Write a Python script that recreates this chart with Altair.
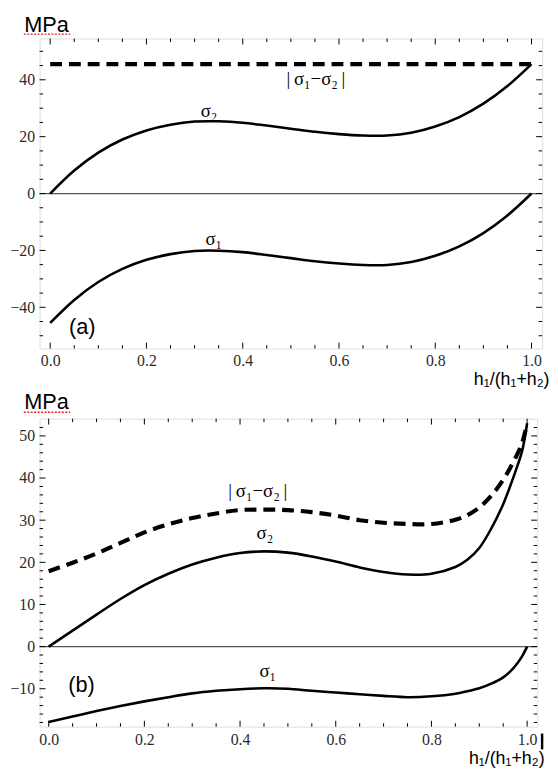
import altair as alt
import pandas as pd

# ---------------- panel (a) data ----------------
xa = [0.0, 0.05, 0.1, 0.15, 0.2, 0.25, 0.3, 0.35, 0.4, 0.45, 0.5,
      0.55, 0.6, 0.65, 0.7, 0.75, 0.8, 0.85, 0.9, 0.95, 1.0]
sig2_a = [0.0, 8.1, 14.4, 19.0, 22.2, 24.2, 25.3, 25.4, 24.9, 23.9, 22.8,
          21.7, 20.9, 20.4, 20.4, 21.4, 23.6, 26.9, 31.6, 37.8, 45.5]
sig1_a = [-45.5, -37.4, -31.1, -26.5, -23.3, -21.3, -20.2, -20.1, -20.6, -21.6, -22.7,
          -23.8, -24.6, -25.1, -25.1, -24.1, -21.9, -18.6, -13.9, -7.7, 0.0]
diff_a_x = [0.0, 1.0]
diff_a = [45.5, 45.5]

# ---------------- panel (b) data ----------------
xb = [0.0, 0.05, 0.1, 0.15, 0.2, 0.25, 0.3, 0.35, 0.4, 0.45, 0.5, 0.55, 0.6,
      0.65, 0.7, 0.75, 0.8, 0.85, 0.875, 0.9, 0.925, 0.95, 0.965, 0.98, 0.99, 1.0]
sig2_b = [0.0, 3.8, 7.6, 11.3, 14.6, 17.3, 19.5, 21.1, 22.2, 22.6, 22.3, 21.4, 20.2,
          18.8, 17.7, 17.1, 17.3, 18.9, 20.6, 23.4, 28.0, 33.8, 38.2, 43.0, 46.6, 53.0]
sig1_b = [-17.9, -16.6, -15.3, -14.1, -13.0, -12.0, -11.1, -10.5, -10.1, -9.9, -10.0, -10.5, -10.9,
          -11.3, -11.7, -12.0, -11.8, -11.2, -10.6, -9.9, -8.8, -7.3, -5.9, -3.9, -2.2, 0.0]
diff_b = [17.9, 19.9, 22.1, 24.6, 27.1, 29.0, 30.5, 31.6, 32.4, 32.5, 32.4, 31.9, 31.1,
          30.0, 29.4, 29.1, 29.1, 30.1, 31.2, 33.0, 35.8, 39.6, 42.5, 45.8, 48.5, 53.0]

# ---------------- ticks & labels ----------------
x_labels = [0.0, 0.2, 0.4, 0.6, 0.8, 1.0]
x_minor = [0.05, 0.1, 0.15, 0.25, 0.3, 0.35, 0.45, 0.5, 0.55, 0.65, 0.7, 0.75, 0.85, 0.9, 0.95]
ya_labels = [-40, -20, 0, 20, 40]
ya_minor = [-50, -45, -35, -30, -25, -15, -10, -5, 5, 10, 15, 25, 30, 35, 45, 50]
yb_labels = [-10, 0, 10, 20, 30, 40, 50]
yb_minor = [-18, -16, -14, -12, -8, -6, -4, -2, 2, 4, 6, 8, 12, 14, 16, 18, 22, 24, 26, 28,
            32, 34, 36, 38, 42, 44, 46, 48, 52]

# annotation texts (x, y in data units)
ann_a_x = [0.33, 0.34, 0.552]
ann_a_y = [27.0, -18.2, 38.0]
ann_a_t = ["σ₂", "σ₁", "|\u2009σ₁−σ₂\u2009|"]
ann_b_x = [0.452, 0.458, 0.437]
ann_b_y = [25.5, -7.1, 35.5]
ann_b_t = ["σ₂", "σ₁", "|\u2009σ₁−σ₂\u2009|"]

SERIF = "Liberation Serif"
SANS = "Liberation Sans"
LAB_C = "#2b2b2b"
MAJ, MINR = 6, 3.5


def panel(W, H, xdom, ydom, ylabels, ymajor, yminor, lines, ann, tag, tag_pos,
          mpa_y, xtitle_y, xlab_pad, squig_y, cursor=False):
    xs = alt.Scale(domain=xdom, nice=False, zero=False)
    ys = alt.Scale(domain=ydom, nice=False, zero=False)
    X = alt.X("x:Q", scale=xs, title="h₁/(h₁+h₂)",
              axis=alt.Axis(values=x_labels, format=".1f", ticks=False, domain=False,
                            grid=False, labelFont=SERIF, labelFontSize=16, labelColor=LAB_C,
                            labelPadding=xlab_pad, labelFlush=False, labelOverlap=False,
                            titleFont=SANS, titleFontSize=18, titleFontWeight="normal",
                            titleColor="black", titleX=W + 7, titleY=xtitle_y,
                            titleAlign="right", titleBaseline="alphabetic"))
    Y = alt.Y("y:Q", scale=ys, title="MPa",
              axis=alt.Axis(values=ylabels, format="d", ticks=False, domain=False,
                            grid=False, labelFont=SERIF, labelFontSize=16, labelColor=LAB_C,
                            labelPadding=5, labelOverlap=False, labelFlush=False,
                            titleFont=SANS, titleFontSize=22, titleFontWeight="normal",
                            titleColor="black", titleAngle=0, titleX=-16, titleY=mpa_y,
                            titleAlign="left", titleBaseline="alphabetic"))
    layers = []
    # zero line
    layers.append(alt.Chart(pd.DataFrame({"y": [0]})).mark_rule(color="#555555", strokeWidth=1.2)
                  .encode(y=Y))
    # curves
    for xv, yv, dash, w in lines:
        mk = dict(color="black", strokeWidth=w, interpolate="catmull-rom", strokeCap="butt")
        if dash:
            mk["strokeDash"] = dash
        layers.append(alt.Chart(pd.DataFrame({"x": xv, "y": yv})).mark_line(**mk)
                      .encode(x=X, y=Y))
    # frame ticks (inward)
    for vals, L in ((x_labels, MAJ), (x_minor, MINR)):
        d = pd.DataFrame({"x": vals})
        layers.append(alt.Chart(d).mark_rule(color="black", strokeWidth=1)
                      .encode(x=X, y=alt.value(H), y2=alt.value(H - L)))
        layers.append(alt.Chart(d).mark_rule(color="black", strokeWidth=1)
                      .encode(x=X, y=alt.value(0), y2=alt.value(L)))
    for vals, L in ((ymajor, MAJ), (yminor, MINR)):
        d = pd.DataFrame({"y": vals})
        layers.append(alt.Chart(d).mark_rule(color="black", strokeWidth=1)
                      .encode(y=Y, x=alt.value(0), x2=alt.value(L)))
        layers.append(alt.Chart(d).mark_rule(color="black", strokeWidth=1)
                      .encode(y=Y, x=alt.value(W), x2=alt.value(W - L)))
    # annotations
    ax, ay, at = ann
    layers.append(alt.Chart(pd.DataFrame({"x": ax, "y": ay, "t": at}))
                  .mark_text(font=SERIF, fontSize=19, align="center", baseline="alphabetic",
                             color="black")
                  .encode(x=X, y=Y, text="t:N"))
    layers.append(alt.Chart(pd.DataFrame({"x": [tag_pos[0]], "y": [tag_pos[1]], "t": [tag]}))
                  .mark_text(font=SANS, fontSize=22, align="left", baseline="alphabetic",
                             color="black")
                  .encode(x=X, y=Y, text="t:N"))
    # spell-check squiggle under "MPa"
    layers.append(alt.Chart(pd.DataFrame({"k": [0]}))
                  .mark_rule(color="#e02020", strokeWidth=1.4, strokeDash=[2, 1.5])
                  .encode(x=alt.value(-16), x2=alt.value(31), y=alt.value(squig_y)))
    if cursor:
        layers.append(alt.Chart(pd.DataFrame({"k": [0]}))
                      .mark_rule(color="black", strokeWidth=2.5)
                      .encode(x=alt.value(W + 5), y=alt.value(H + 7), y2=alt.value(H + 23)))
    return alt.layer(*layers).properties(width=W, height=H)


pa = panel(509, 314, [-0.022, 1.022], [-54.5, 54.5], ya_labels, ya_labels, ya_minor,
           [(xa, sig2_a, None, 2.6), (xa, sig1_a, None, 2.6), (diff_a_x, diff_a, [12, 7], 4.2)],
           (ann_a_x, ann_a_y, ann_a_t), "(a)", (0.039, -49.5),
           mpa_y=-6.7, xtitle_y=36, xlab_pad=4, squig_y=-4.5)
pb = panel(504, 312, [-0.019, 1.021], [-19, 54.1], yb_labels, yb_labels, yb_minor,
           [(xb, sig2_b, None, 2.6), (xb, sig1_b, None, 2.6), (xb, diff_b, [12, 7], 4.2)],
           (ann_b_x, ann_b_y, ann_b_t), "(b)", (0.041, -10.8),
           mpa_y=-10.3, xtitle_y=37, xlab_pad=5, squig_y=-6.5, cursor=True)

chart = (alt.vconcat(pa, pb, spacing=1)
         .properties(padding={"left": 1, "top": 0, "right": 0, "bottom": 0})
         .configure_view(stroke="black", strokeWidth=1)
         .configure(background="white"))

chart.save("out.html", embed_options={"renderer": "svg", "actions": False})
